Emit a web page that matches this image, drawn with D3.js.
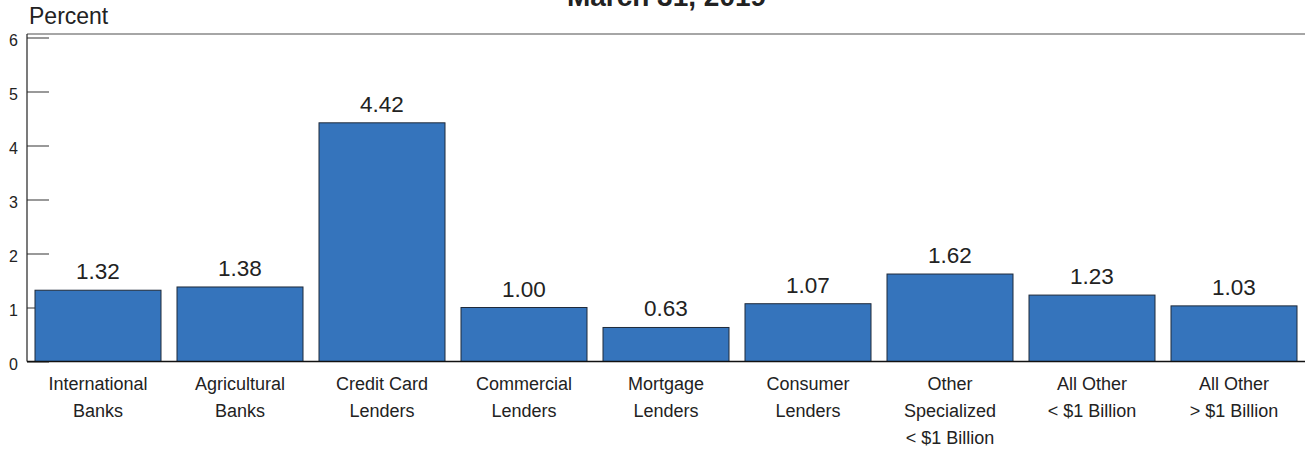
<!DOCTYPE html>
<html><head><meta charset="utf-8">
<script src="https://cdn.jsdelivr.net/npm/d3@7"></script>
<style>body{margin:0;background:#fff;} svg{display:block;font-family:"Liberation Sans",Arial,sans-serif;} .ytick{font-size:16px;}</style>
</head><body>
<svg id="c" width="1305" height="451"></svg>
<script>
const categories = [
  ["International","Banks"],
  ["Agricultural","Banks"],
  ["Credit Card","Lenders"],
  ["Commercial","Lenders"],
  ["Mortgage","Lenders"],
  ["Consumer","Lenders"],
  ["Other","Specialized","< $1 Billion"],
  ["All Other","< $1 Billion"],
  ["All Other","> $1 Billion"]
];
const values = [1.32, 1.38, 4.42, 1.00, 0.63, 1.07, 1.62, 1.23, 1.03];
const yTicks = [0, 1, 2, 3, 4, 5, 6];
const title = "March 31, 2019";
const yLabel = "Percent";

const svg = d3.select("#c");
const mLeft = 27, mRight = 1305, mTop = 34, mBottom = 361.5;
const x = d3.scaleBand().domain(d3.range(categories.length)).range([mLeft, mRight]).paddingInner(16/142).paddingOuter(8/142);
const y = d3.scaleLinear().domain([0, 6]).range([mBottom, 37.5]);

svg.append("text").attr("x", 666.5).attr("y", 6).attr("text-anchor","middle")
  .style("font-size", "28px").attr("font-weight","bold").attr("fill","#222").text(title);
svg.append("text").attr("x", 29).attr("y", 24).style("font-size", "23px").attr("fill","#222").text(yLabel);

// top border
svg.append("line").attr("x1", mLeft).attr("x2", mRight).attr("y1", mTop).attr("y2", mTop)
  .attr("stroke", "#888").attr("stroke-width", 1.5);

// y axis
const yAxis = d3.axisRight(y).tickValues(yTicks).tickSize(22).tickFormat(d3.format("d"));
const ya = svg.append("g").attr("transform", `translate(${mLeft},0)`).call(yAxis)
  .attr("font-size", null).attr("font-family", null);
ya.select(".domain").remove();
ya.selectAll(".tick line").attr("stroke", "#555").attr("stroke-width", 1.2);
ya.selectAll(".tick text").attr("class", "ytick").attr("x", -9).attr("dy", "0.5em").attr("text-anchor","end")
  .attr("fill","#222");
svg.append("line").attr("x1", mLeft).attr("x2", mLeft).attr("y1", mTop).attr("y2", mBottom)
  .attr("stroke", "#222").attr("stroke-width", 1.2);

// bars
svg.append("g").selectAll("rect").data(values).join("rect")
  .attr("x", (d,i) => x(i)).attr("width", x.bandwidth())
  .attr("y", d => y(d)).attr("height", d => y(0) - y(d))
  .attr("fill", "#3574BC").attr("stroke", "#1f2a3a").attr("stroke-width", 1);

svg.append("g").selectAll("text").data(values).join("text")
  .attr("x", (d,i) => x(i) + x.bandwidth()/2).attr("y", d => y(d) - 11)
  .attr("text-anchor","middle").style("font-size", "22.5px").attr("fill","#222")
  .text(d => d.toFixed(2));

// bottom axis line
svg.append("line").attr("x1", mLeft).attr("x2", mRight).attr("y1", mBottom).attr("y2", mBottom)
  .attr("stroke", "#111").attr("stroke-width", 1.5);

// category labels
const cl = svg.append("g").selectAll("text").data(categories).join("text")
  .attr("text-anchor","middle").style("font-size", "18px").attr("fill","#222");
cl.each(function(lines, i) {
  d3.select(this).selectAll("tspan").data(lines).join("tspan")
    .attr("x", x(i) + x.bandwidth()/2).attr("y", (d,j) => 389.5 + j*27).text(d => d);
});
</script>
</body></html>
